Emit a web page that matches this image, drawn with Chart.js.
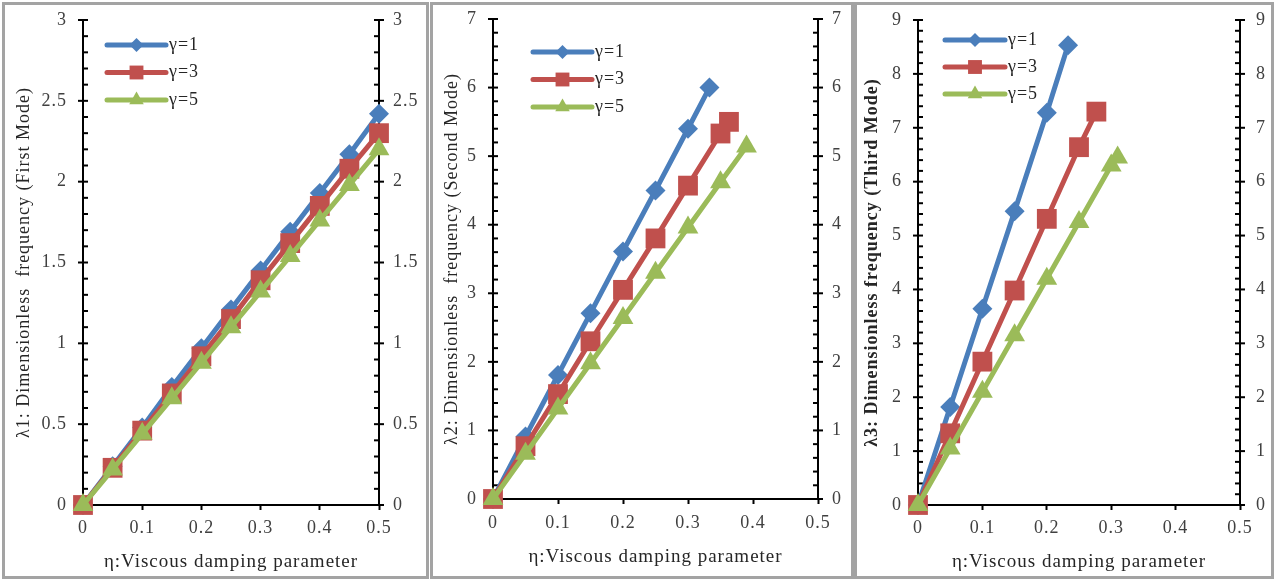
<!DOCTYPE html>
<html>
<head>
<meta charset="utf-8">
<script src="https://cdn.jsdelivr.net/npm/chart.js@4.4.1/dist/chart.umd.min.js"></script>
<style>
  html, body { margin: 0; padding: 0; background: #fff; }
  body { width: 1276px; height: 581px; position: relative; overflow: hidden; }
  .panel { position: absolute; top: 2px; height: 577px; border: 3px solid #a3a3a3; box-sizing: border-box; }
  .panel canvas { display: block; }
</style>
</head>
<body>
<div class="panel" style="left:2px;width:427px"><canvas id="mode1" width="421" height="571"></canvas></div>
<div class="panel" style="left:430px;width:424px"><canvas id="mode2" width="418" height="571"></canvas></div>
<div class="panel" style="left:854px;width:420px"><canvas id="mode3" width="414" height="571"></canvas></div>
<script>
// series labels and colours
var gammaLabels = ['γ=1', 'γ=3', 'γ=5'];
var colors = ['#4a7ebb', '#c0504d', '#9bbb59'];

// first mode
var eta1 = [0, 0.05, 0.1, 0.15, 0.2, 0.25, 0.3, 0.35, 0.4, 0.45, 0.5];
var first_g1 = [0, 0.24, 0.48, 0.73, 0.97, 1.21, 1.45, 1.69, 1.93, 2.17, 2.42];
var first_g3 = [0, 0.23, 0.46, 0.69, 0.92, 1.15, 1.39, 1.62, 1.85, 2.08, 2.30];
var first_g5 = [0, 0.22, 0.44, 0.66, 0.88, 1.10, 1.32, 1.54, 1.76, 1.98, 2.20];

// second mode
var eta2_g1 = [0, 0.05, 0.1, 0.15, 0.2, 0.25, 0.3, 0.333];
var second_g1 = [0, 0.91, 1.81, 2.71, 3.61, 4.50, 5.40, 6.00];
var eta2_g3 = [0, 0.05, 0.1, 0.15, 0.2, 0.25, 0.3, 0.35, 0.363];
var second_g3 = [0, 0.77, 1.53, 2.30, 3.05, 3.80, 4.57, 5.33, 5.50];
var eta2_g5 = [0, 0.05, 0.1, 0.15, 0.2, 0.25, 0.3, 0.35, 0.39];
var second_g5 = [0, 0.66, 1.32, 1.98, 2.64, 3.30, 3.96, 4.62, 5.14];

// third mode
var eta3_g1 = [0, 0.05, 0.1, 0.15, 0.2, 0.233];
var third_g1 = [0, 1.82, 3.64, 5.45, 7.28, 8.53];
var eta3_g3 = [0, 0.05, 0.1, 0.15, 0.2, 0.25, 0.277];
var third_g3 = [0, 1.33, 2.66, 3.98, 5.31, 6.64, 7.30];
var eta3_g5 = [0, 0.05, 0.1, 0.15, 0.2, 0.25, 0.3, 0.31];
var third_g5 = [0, 1.05, 2.10, 3.15, 4.20, 5.25, 6.30, 6.45];

// axis ranges
var xTicks = [0, 0.1, 0.2, 0.3, 0.4, 0.5];
var yMax = [3, 7, 9];
var yMajor = [0.5, 1, 1];
var yMinor = [0.1, 0.2, 0.2];

var xTitle = 'η:Viscous damping parameter';
var yTitles = [
	'λ1: Dimensionless  frequency (First Mode)',
	'λ2: Dimensionless  frequency (Second Mode)',
	'λ3: Dimensionless frequency (Third Mode)'
];

var serif = 'Liberation Serif';
var pointStyles = ['rectRot', 'rect', 'triangle'];
var pointSizes = [10, 14, 12];

function pts(xs, ys) {
	return xs.map(function(x, i) { return { x: x, y: ys[i] }; });
}

function isMajor(v, step) {
	var r = v / step;
	return Math.abs(r - Math.round(r)) < 1e-6;
}

// slightly wider text, like the office rendering
var spacedText = {
	id: 'spacedText',
	beforeDraw: function(chart) {
		chart.ctx.letterSpacing = '1px';
	}
};

// cross ticks on the two vertical axes, minor ones pointing inwards
var crossTicks = {
	id: 'crossTicks',
	beforeDatasetsDraw: function(chart, args, opts) {
		var ctx = chart.ctx, area = chart.chartArea;
		ctx.save();
		ctx.strokeStyle = '#000';
		ctx.lineWidth = 2;
		['y', 'y2'].forEach(function(id) {
			var s = chart.scales[id];
			var x = id === 'y' ? area.left : area.right;
			var dir = id === 'y' ? 1 : -1;
			s.ticks.forEach(function(t) {
				var py = s.getPixelForValue(t.value);
				ctx.beginPath();
				if (isMajor(t.value, opts.major)) {
					ctx.moveTo(x - 5, py);
					ctx.lineTo(x + 5, py);
				} else {
					ctx.moveTo(x, py);
					ctx.lineTo(x + dir * 5, py);
				}
				ctx.stroke();
			});
		});
		ctx.restore();
	}
};

// legend drawn as line + marker, inside the plot
var lineLegend = {
	id: 'lineLegend',
	afterDraw: function(chart, args, opts) {
		var ctx = chart.ctx, area = chart.chartArea;
		var x0 = area.left + opts.x;
		chart.data.datasets.forEach(function(ds, i) {
			var y = area.top + opts.y + i * opts.gap;
			ctx.save();
			ctx.strokeStyle = ds.borderColor;
			ctx.lineWidth = ds.borderWidth;
			ctx.lineCap = 'round';
			ctx.beginPath();
			ctx.moveTo(x0, y);
			ctx.lineTo(x0 + opts.len, y);
			ctx.stroke();
			ctx.fillStyle = ds.backgroundColor;
			Chart.helpers.drawPoint(ctx, {
				pointStyle: ds.pointStyle,
				radius: ds.pointRadius * 0.7,
				borderWidth: 0
			}, x0 + opts.len / 2, y);
			ctx.fillStyle = '#262626';
			ctx.font = '18px "' + serif + '"';
			ctx.textBaseline = 'middle';
			ctx.textAlign = 'left';
			ctx.fillText(ds.label, x0 + opts.len + 3, y);
			ctx.restore();
		});
	}
};

function noEdgePadding(s) {
	s.paddingTop = 0;
	s.paddingBottom = 0;
	s.paddingLeft = 0;
	s.paddingRight = 0;
}

function makeChart(id, k, series, lay) {
	var datasets = series.map(function(s, i) {
		return {
			label: gammaLabels[i],
			data: pts(s[0], s[1]),
			borderColor: colors[i],
			backgroundColor: colors[i],
			borderWidth: 5,
			borderJoinStyle: 'round',
			pointStyle: pointStyles[i],
			pointRadius: pointSizes[i],
			pointBorderWidth: 0,
			pointBackgroundColor: colors[i],
			tension: 0,
			clip: false,
			order: 2 - i
		};
	});

	var yTickLabel = function(v) {
		return isMajor(v, yMajor[k]) ? String(Math.round(v * 10) / 10) : '';
	};

	return new Chart(document.getElementById(id), {
		type: 'line',
		data: { datasets: datasets },
		plugins: [spacedText, crossTicks, lineLegend],
		options: {
			responsive: false,
			animation: false,
			events: [],
			layout: { padding: { left: 0, right: 0, top: lay.top, bottom: 0 } },
			plugins: {
				legend: { display: false },
				tooltip: { enabled: false },
				crossTicks: { major: yMajor[k] },
				lineLegend: lay.legend
			},
			scales: {
				x: {
					type: 'linear',
					min: 0,
					max: 0.5,
					afterBuildTicks: function(s) {
						s.ticks = xTicks.map(function(v) { return { value: v }; });
					},
					afterFit: function(s) { s.height = lay.xh; noEdgePadding(s); },
					grid: {
						display: true,
						drawOnChartArea: false,
						drawTicks: true,
						tickLength: 5,
						tickColor: '#000',
						tickWidth: 2
					},
					border: { display: true, color: '#000', width: 2 },
					ticks: {
						padding: lay.xpad,
						color: '#404040',
						font: { family: serif, size: 18 },
						maxRotation: 0,
						callback: function(v) { return String(Math.round(v * 10) / 10); }
					},
					title: {
						display: true,
						text: xTitle,
						color: '#262626',
						font: { family: serif, size: 19 },
						padding: { top: 0, bottom: lay.xtp }
					}
				},
				y: {
					type: 'linear',
					position: 'left',
					min: 0,
					max: yMax[k],
					afterFit: function(s) { s.width = lay.yw; noEdgePadding(s); },
					grid: { display: false, drawTicks: false },
					border: { display: true, color: '#000', width: 2 },
					ticks: {
						stepSize: yMinor[k],
						autoSkip: false,
						padding: 16,
						color: '#404040',
						font: { family: serif, size: 18 },
						callback: yTickLabel
					},
					title: {
						display: true,
						text: yTitles[k],
						color: '#262626',
						font: { family: serif, size: 18, weight: k === 2 ? 'bold' : 'normal' },
						padding: { top: lay.ytp, bottom: 0 }
					}
				},
				y2: {
					type: 'linear',
					position: 'right',
					min: 0,
					max: yMax[k],
					afterFit: function(s) { s.width = lay.y2w; noEdgePadding(s); },
					grid: { display: false, drawTicks: false },
					border: { display: true, color: '#000', width: 2 },
					ticks: {
						stepSize: yMinor[k],
						autoSkip: false,
						padding: lay.y2pad,
						color: '#404040',
						font: { family: serif, size: 18 },
						callback: yTickLabel
					}
				}
			}
		}
	});
}

makeChart('mode1', 0, [[eta1, first_g1], [eta1, first_g3], [eta1, first_g5]], {
	top: 15, xh: 71, yw: 78, y2w: 47, xpad: 7, xtp: 3, ytp: 8, y2pad: 14,
	legend: { x: 24, y: 25, gap: 27.5, len: 59 }
});
makeChart('mode2', 1, [[eta2_g1, second_g1], [eta2_g3, second_g3], [eta2_g5, second_g5]], {
	top: 10, xh: 77, yw: 60, y2w: 33, xpad: 8, xtp: 8, ytp: 8, y2pad: 14,
	legend: { x: 40, y: 33, gap: 27.5, len: 59 }
});
makeChart('mode3', 2, [[eta3_g1, third_g1], [eta3_g3, third_g3], [eta3_g5, third_g5]], {
	top: 15, xh: 71, yw: 61, y2w: 31, xpad: 7, xtp: 3, ytp: 5, y2pad: 16,
	legend: { x: 27, y: 20, gap: 27, len: 60 }
});
</script>
</body>
</html>
